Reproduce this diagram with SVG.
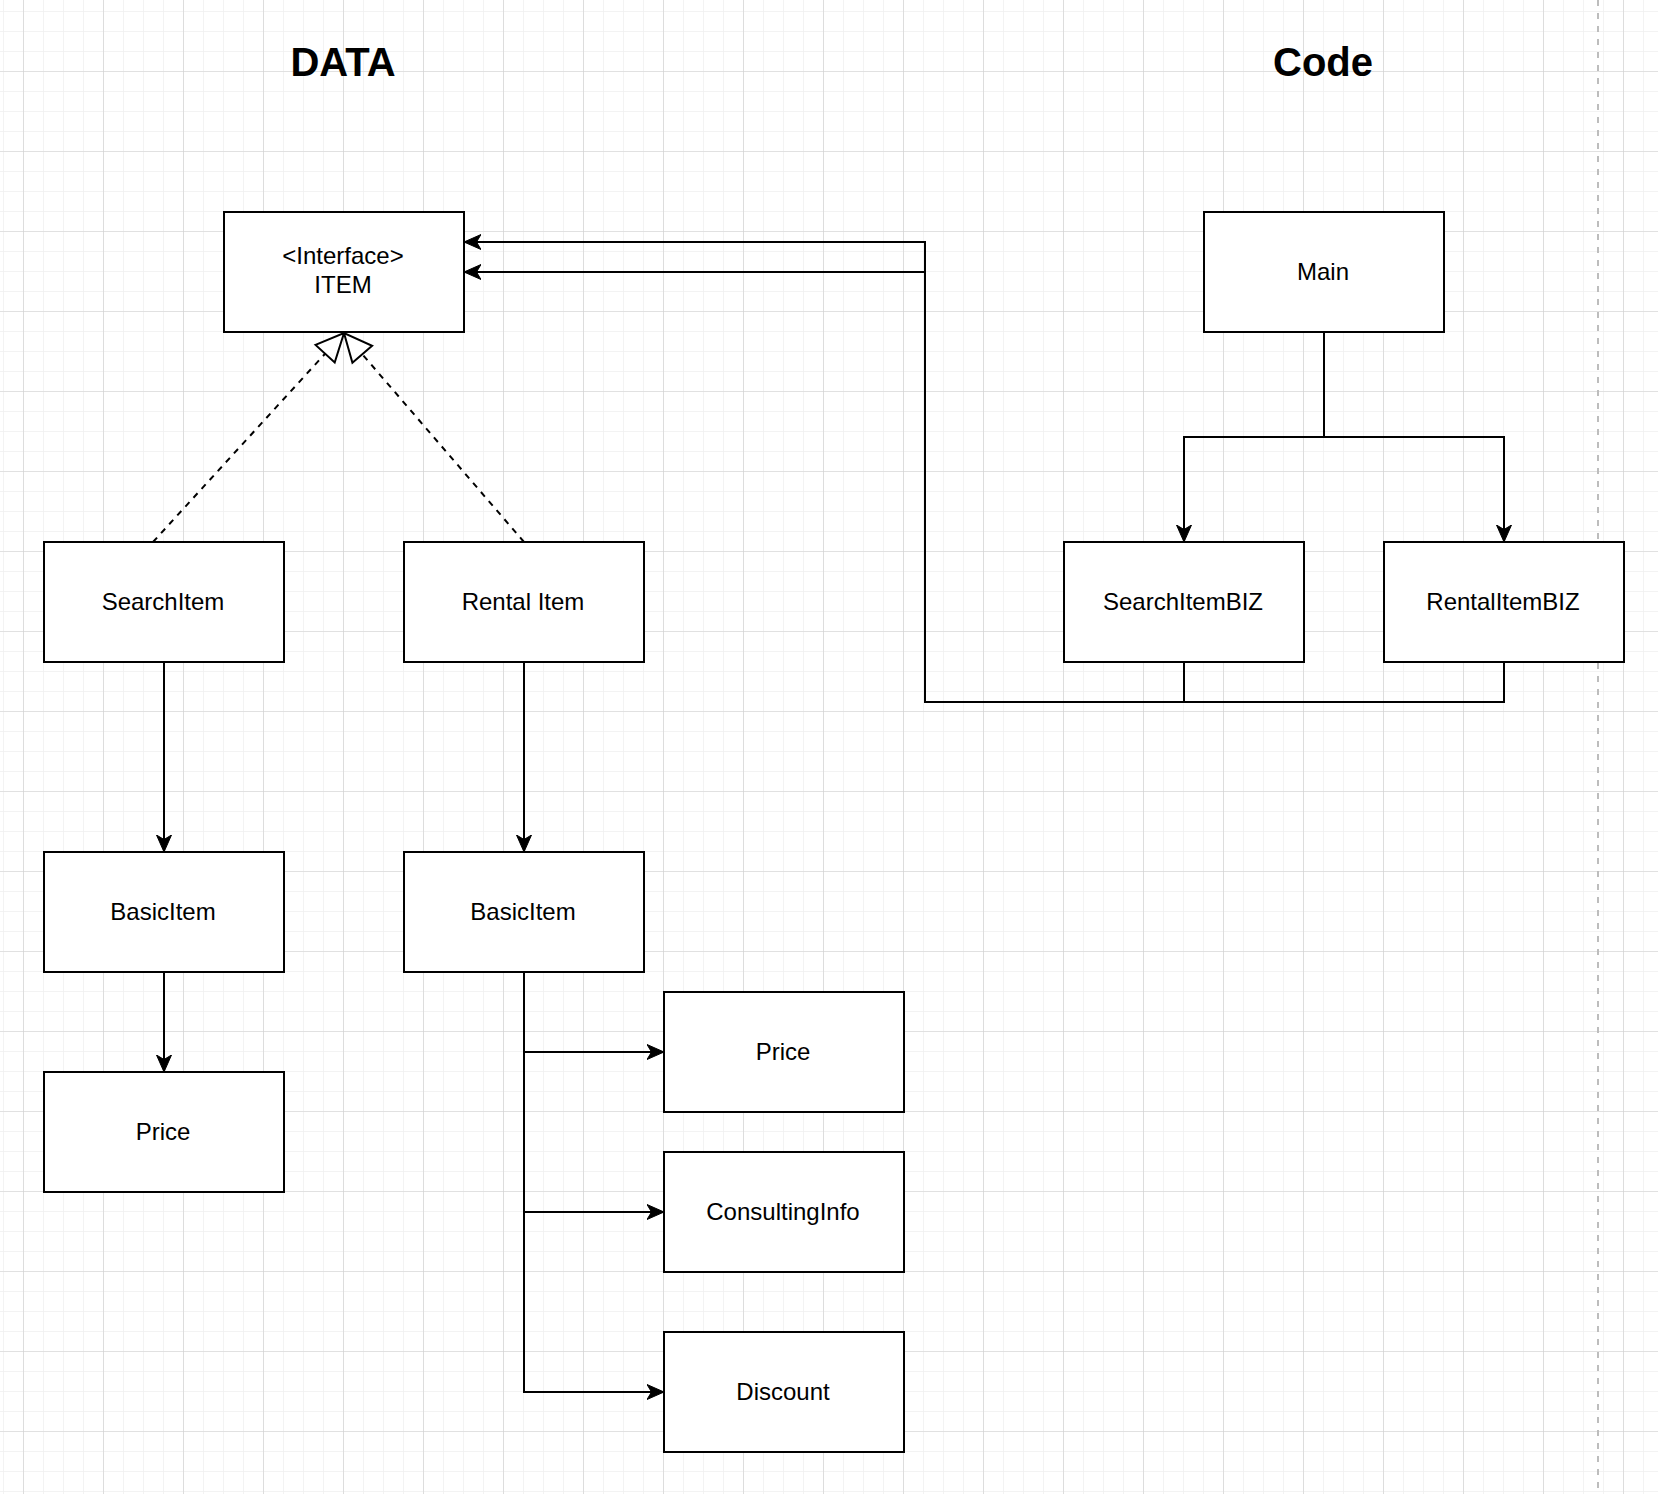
<svg xmlns="http://www.w3.org/2000/svg" width="1658" height="1494" viewBox="0 0 1658 1494">
<style>
.box{fill:#fff;stroke:#000;stroke-width:2}
.lbl{font-family:"Liberation Sans",Arial,sans-serif;font-size:24px;fill:#000;text-anchor:middle}
.title{font-family:"Liberation Sans",Arial,sans-serif;font-size:40px;font-weight:bold;fill:#000;text-anchor:middle}
.con{fill:none;stroke:#000;stroke-width:2}
.dash{fill:none;stroke:#000;stroke-width:2;stroke-dasharray:6 6}
</style>
<defs>
<pattern id="minor" patternUnits="userSpaceOnUse" x="3" y="11" width="20" height="20">
<path d="M0,0 H20 M0,0 V20" fill="none" stroke="#f0f0f0" stroke-width="1.6"/>
</pattern>
<pattern id="major" patternUnits="userSpaceOnUse" x="23" y="71" width="80" height="80">
<path d="M0,0 H80 M0,0 V80" fill="none" stroke="#cfcfcf" stroke-width="1.2"/>
</pattern>
<marker id="arr" markerUnits="userSpaceOnUse" viewBox="0 0 18 16" refX="17" refY="8" markerWidth="18" markerHeight="16" orient="auto">
<path d="M0,0.5 L17,8 L0,15.5 L4.5,8 Z" fill="#000" stroke="#000" stroke-width="1"/>
</marker>
<marker id="tri" markerUnits="userSpaceOnUse" viewBox="0 0 32 30" refX="30" refY="15" markerWidth="32" markerHeight="30" orient="auto">
<path d="M2,2 L30,15 L2,28 Z" fill="#fff" stroke="#000" stroke-width="2"/>
</marker>
</defs>
<rect width="1658" height="1494" fill="#fff"/>
<rect width="1658" height="1494" fill="url(#minor)"/>
<rect width="1658" height="1494" fill="url(#major)"/>
<line x1="1598" y1="0" x2="1598" y2="1494" stroke="#bdbdbd" stroke-width="2" stroke-dasharray="6 7"/>

<text class="title" x="343" y="76">DATA</text>
<text class="title" x="1323" y="76">Code</text>

<g transform="translate(1,1)">
<g id="connectors">
<path class="dash" d="M152,541 L343,332" marker-end="url(#tri)"/>
<path class="dash" d="M523,541 L343,332" marker-end="url(#tri)"/>
<path class="con" d="M163,661 L163,851" marker-end="url(#arr)"/>
<path class="con" d="M523,661 L523,851" marker-end="url(#arr)"/>
<path class="con" d="M163,971 L163,1071" marker-end="url(#arr)"/>
<path class="con" d="M523,971 L523,1051 L663,1051" marker-end="url(#arr)"/>
<path class="con" d="M523,971 L523,1211 L663,1211" marker-end="url(#arr)"/>
<path class="con" d="M523,971 L523,1391 L663,1391" marker-end="url(#arr)"/>
<path class="con" d="M1323,331 L1323,436 L1183,436 L1183,541" marker-end="url(#arr)"/>
<path class="con" d="M1323,331 L1323,436 L1503,436 L1503,541" marker-end="url(#arr)"/>
<path class="con" d="M1183,661 L1183,701 L924,701 L924,271 L463,271" marker-end="url(#arr)"/>
<path class="con" d="M1503,661 L1503,701 L924,701 L924,241 L463,241" marker-end="url(#arr)"/>
</g>

<g id="item">
<rect class="box" x="223" y="211" width="240" height="120"/>
<text class="lbl" x="342" y="263">&lt;Interface&gt;</text>
<text class="lbl" x="342" y="292">ITEM</text>
</g>
<g id="searchitem">
<rect class="box" x="43" y="541" width="240" height="120"/>
<text class="lbl" x="162" y="609">SearchItem</text>
</g>
<g id="rentalitem">
<rect class="box" x="403" y="541" width="240" height="120"/>
<text class="lbl" x="522" y="609">Rental Item</text>
</g>
<g id="basicitem1">
<rect class="box" x="43" y="851" width="240" height="120"/>
<text class="lbl" x="162" y="919">BasicItem</text>
</g>
<g id="basicitem2">
<rect class="box" x="403" y="851" width="240" height="120"/>
<text class="lbl" x="522" y="919">BasicItem</text>
</g>
<g id="price1">
<rect class="box" x="43" y="1071" width="240" height="120"/>
<text class="lbl" x="162" y="1139">Price</text>
</g>
<g id="price2">
<rect class="box" x="663" y="991" width="240" height="120"/>
<text class="lbl" x="782" y="1059">Price</text>
</g>
<g id="consultinginfo">
<rect class="box" x="663" y="1151" width="240" height="120"/>
<text class="lbl" x="782" y="1219">ConsultingInfo</text>
</g>
<g id="discount">
<rect class="box" x="663" y="1331" width="240" height="120"/>
<text class="lbl" x="782" y="1399">Discount</text>
</g>
<g id="main">
<rect class="box" x="1203" y="211" width="240" height="120"/>
<text class="lbl" x="1322" y="279">Main</text>
</g>
<g id="searchitembiz">
<rect class="box" x="1063" y="541" width="240" height="120"/>
<text class="lbl" x="1182" y="609">SearchItemBIZ</text>
</g>
<g id="rentalitembiz">
<rect class="box" x="1383" y="541" width="240" height="120"/>
<text class="lbl" x="1502" y="609">RentalItemBIZ</text>
</g>
</g>
</svg>
